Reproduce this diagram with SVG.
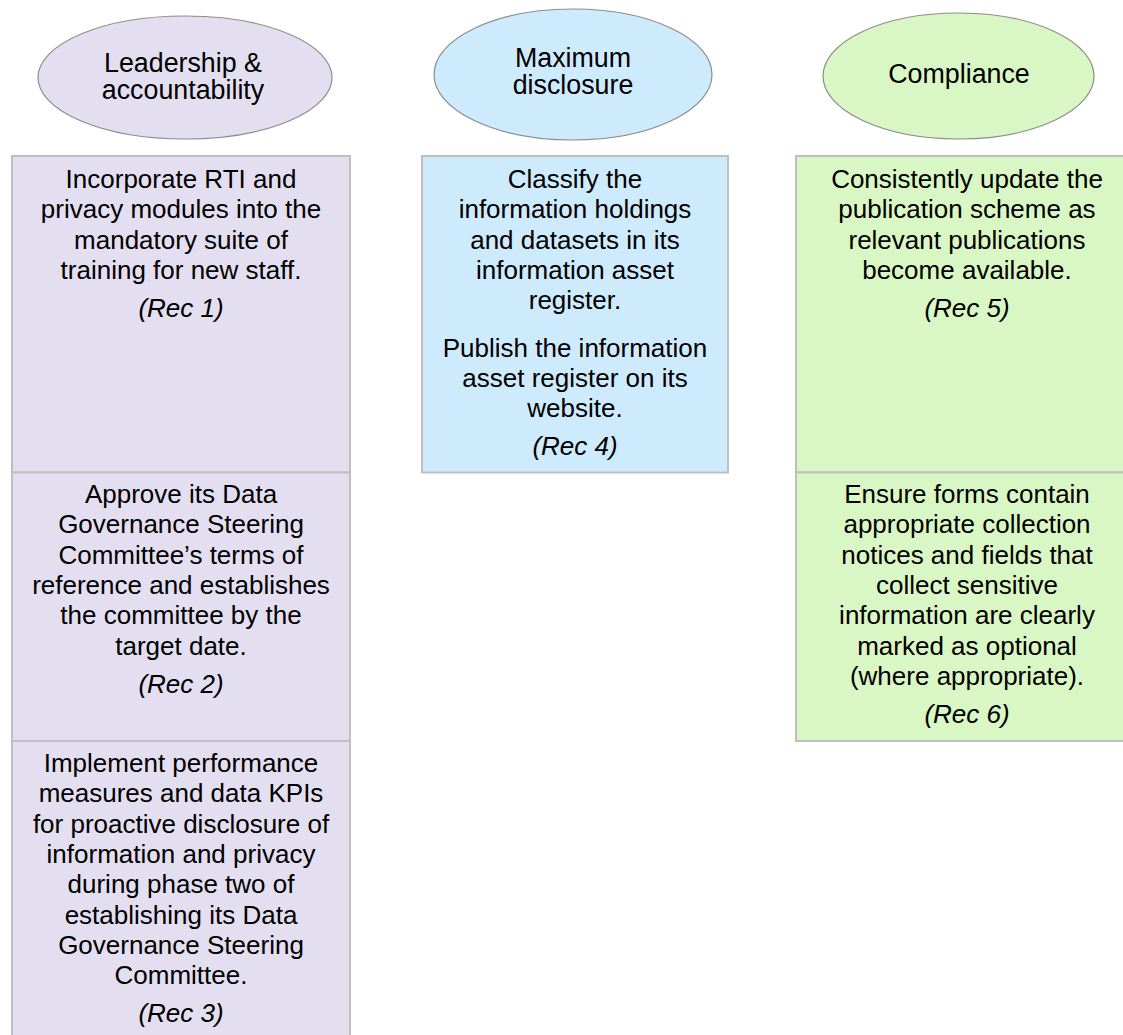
<svg xmlns="http://www.w3.org/2000/svg" width="1123" height="1035" viewBox="0 0 1123 1035">
<style>
text{font-family:"Liberation Sans",Arial,sans-serif;font-size:26px;fill:#000;text-anchor:middle}
.h{font-size:26.8px}
.i{font-style:italic}
.ell{stroke:#8c8c8c;stroke-width:1.2}
.box{stroke:#bfbfbf;stroke-width:2}
.p{fill:#e3dff0}
.b{fill:#cdebfd}
.g{fill:#d9f7c4}
</style>
<rect width="1123" height="1035" fill="#fff"/>
<g id="connectors"/>
<g id="head-leadership">
<ellipse class="ell p" cx="185" cy="77.5" rx="147" ry="61.5"/>
<text class="h" x="183" y="71.5">Leadership &amp;</text>
<text class="h" x="183" y="99">accountability</text>
</g>
<g id="head-disclosure">
<ellipse class="ell b" cx="573" cy="74.5" rx="139" ry="65.5"/>
<text class="h" x="573" y="66.5">Maximum</text>
<text class="h" x="573" y="94">disclosure</text>
</g>
<g id="head-compliance">
<ellipse class="ell g" cx="958.5" cy="76" rx="135.5" ry="63"/>
<text class="h" x="959" y="83">Compliance</text>
</g>
<g id="rec1">
<rect class="box p" x="12" y="156" width="338" height="316.5"/>
<text x="181" y="188">Incorporate RTI and</text>
<text x="181" y="218.3">privacy modules into the</text>
<text x="181" y="248.6">mandatory suite of</text>
<text x="181" y="279">training for new staff.</text>
<text class="i" x="181" y="317">(Rec 1)</text>
</g>
<g id="rec2">
<rect class="box p" x="12" y="472.5" width="338" height="268.5"/>
<text x="181" y="503">Approve its Data</text>
<text x="181" y="533.3">Governance Steering</text>
<text x="181" y="563.6">Committee’s terms of</text>
<text x="181" y="594">reference and establishes</text>
<text x="181" y="624.2">the committee by the</text>
<text x="181" y="654.5">target date.</text>
<text class="i" x="181" y="692.5">(Rec 2)</text>
</g>
<g id="rec3">
<rect class="box p" x="12" y="741" width="338" height="310"/>
<text x="181" y="772">Implement performance</text>
<text x="181" y="802.3">measures and data KPIs</text>
<text x="181" y="832.6">for proactive disclosure of</text>
<text x="181" y="863">information and privacy</text>
<text x="181" y="893.2">during phase two of</text>
<text x="181" y="923.5">establishing its Data</text>
<text x="181" y="953.8">Governance Steering</text>
<text x="181" y="984">Committee.</text>
<text class="i" x="181" y="1022">(Rec 3)</text>
</g>
<g id="rec4">
<rect class="box b" x="422" y="156" width="306" height="316.5"/>
<text x="575" y="188">Classify the</text>
<text x="575" y="218.3">information holdings</text>
<text x="575" y="248.6">and datasets in its</text>
<text x="575" y="279">information asset</text>
<text x="575" y="309.3">register.</text>
<text x="575" y="356.5">Publish the information</text>
<text x="575" y="386.8">asset register on its</text>
<text x="575" y="417">website.</text>
<text class="i" x="575" y="455">(Rec 4)</text>
</g>
<g id="rec5">
<rect class="box g" x="796" y="156" width="344" height="316.5"/>
<text x="967" y="188">Consistently update the</text>
<text x="967" y="218.3">publication scheme as</text>
<text x="967" y="248.6">relevant publications</text>
<text x="967" y="279">become available.</text>
<text class="i" x="967" y="317">(Rec 5)</text>
</g>
<g id="rec6">
<rect class="box g" x="796" y="472.5" width="344" height="268.5"/>
<text x="967" y="503">Ensure forms contain</text>
<text x="967" y="533.3">appropriate collection</text>
<text x="967" y="563.6">notices and fields that</text>
<text x="967" y="594">collect sensitive</text>
<text x="967" y="624.2">information are clearly</text>
<text x="967" y="654.5">marked as optional</text>
<text x="967" y="684.8">(where appropriate).</text>
<text class="i" x="967" y="723">(Rec 6)</text>
</g>
</svg>
